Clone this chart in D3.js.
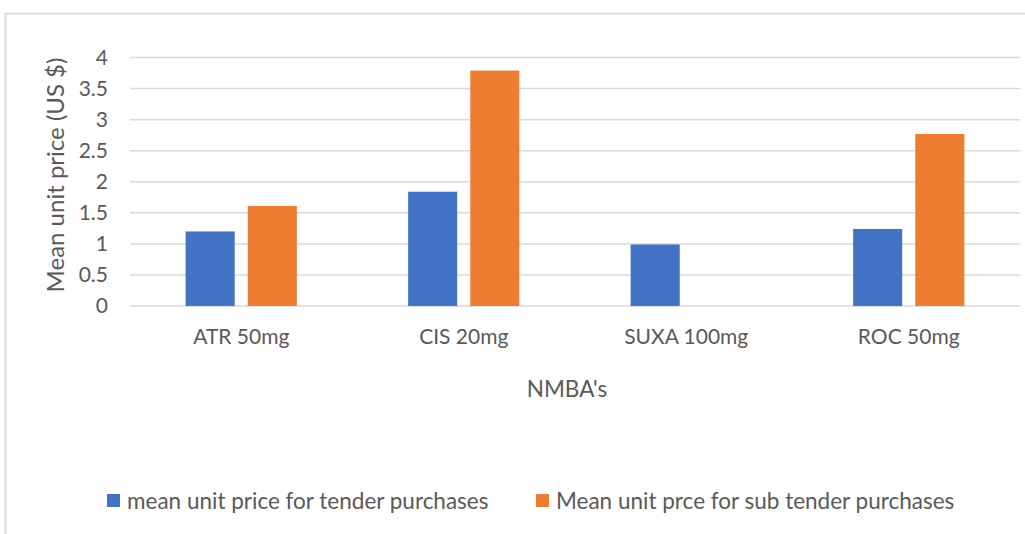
<!DOCTYPE html>
<html>
<head>
<meta charset="utf-8">
<script src="https://cdn.jsdelivr.net/npm/d3@7"></script>
<style>
  html, body { margin: 0; padding: 0; background: #fff; }
  svg { display: block; font-family: Lato, "Open Sans", sans-serif; }
</style>
</head>
<body>
<svg id="chart" width="1025" height="534"></svg>
<script>
// Mean unit price of neuromuscular blocking agents (NMBA's), US $
const categories = ["ATR 50mg", "CIS 20mg", "SUXA 100mg", "ROC 50mg"];
const seriesNames = [
  "mean unit price for tender purchases",
  "Mean unit prce for sub tender purchases"
];
const tenderValues = [1.2, 1.84, 0.99, 1.24];
const subTenderValues = [1.61, 3.79, null, 2.77];
const yTicks = [0, 0.5, 1, 1.5, 2, 2.5, 3, 3.5, 4];
const yTickLabels = ["0", "0.5", "1", "1.5", "2", "2.5", "3", "3.5", "4"];
const colors = ["#4472c4", "#ed7d31"];

const svg = d3.select("#chart");
const textColor = "#595959";
const gridColor = "#d9d9d9";

// chart area frame (top and left edges visible)
svg.append("path")
  .attr("d", "M5.5,534 V13.5 H1025")
  .attr("fill", "none")
  .attr("stroke", gridColor)
  .attr("stroke-width", 2);

const plot = { left: 130, right: 1020, top: 57.5, bottom: 306 };

const x0 = d3.scaleBand()
  .domain(categories)
  .range([plot.left, plot.right])
  .paddingInner(0.5)
  .paddingOuter(0.25);

const x1 = d3.scaleBand()
  .domain([0, 1])
  .range([0, x0.bandwidth()])
  .paddingInner(0.21)
  .paddingOuter(0);

const y = d3.scaleLinear()
  .domain([0, 4])
  .range([plot.bottom, plot.top]);

// horizontal gridlines
svg.append("g")
  .selectAll("line")
  .data(yTicks)
  .join("line")
  .attr("x1", plot.left)
  .attr("x2", plot.right)
  .attr("y1", d => y(d))
  .attr("y2", d => y(d))
  .attr("stroke", gridColor)
  .attr("stroke-width", 1.5);

// y axis tick labels
const yAxis = d3.axisLeft(y)
  .tickValues(yTicks)
  .tickFormat((d, i) => yTickLabels[i])
  .tickSize(0)
  .tickPadding(0);

svg.append("g")
  .attr("transform", "translate(108,0)")
  .call(yAxis)
  .call(g => g.select(".domain").remove())
  .call(g => g.selectAll("text")
    .attr("fill", textColor)
    .style("font-family", "Lato, sans-serif")
    .style("font-size", "21px"));

// bars
const rows = categories.map((c, i) => ({ cat: c, vals: [tenderValues[i], subTenderValues[i]] }));

const groups = svg.append("g")
  .selectAll("g")
  .data(rows)
  .join("g")
  .attr("transform", d => `translate(${x0(d.cat)},0)`);

groups.selectAll("rect")
  .data(d => d.vals.map((v, s) => ({ v, s })).filter(e => e.v != null))
  .join("rect")
  .attr("x", d => x1(d.s))
  .attr("width", x1.bandwidth())
  .attr("y", d => y(d.v))
  .attr("height", d => y(0) - y(d.v))
  .attr("fill", d => colors[d.s]);

// category axis labels
const xAxis = d3.axisBottom(x0).tickSize(0).tickPadding(0);
svg.append("g")
  .attr("transform", `translate(0,${plot.bottom})`)
  .call(xAxis)
  .call(g => g.select(".domain").remove())
  .call(g => g.selectAll("text")
    .attr("dy", null)
    .attr("y", 38)
    .attr("fill", textColor)
    .style("font-family", "Lato, sans-serif")
    .style("font-size", "21px"));

// axis titles
svg.append("text")
  .attr("x", 567)
  .attr("y", 397)
  .attr("text-anchor", "middle")
  .attr("fill", textColor)
  .style("font-size", "22.5px")
  .text("NMBA's");

svg.append("text")
  .attr("transform", "translate(64,175) rotate(-90)")
  .attr("text-anchor", "middle")
  .attr("fill", textColor)
  .style("font-size", "24px")
  .text("Mean unit price (US $)");

// legend
const legendItems = [
  { name: seriesNames[0], color: colors[0], x: 107 },
  { name: seriesNames[1], color: colors[1], x: 536 }
];
const legend = svg.append("g")
  .selectAll("g")
  .data(legendItems)
  .join("g")
  .attr("transform", d => `translate(${d.x},494)`);

legend.append("rect")
  .attr("width", 13)
  .attr("height", 13)
  .attr("fill", d => d.color);

legend.append("text")
  .attr("x", 20)
  .attr("y", 15)
  .attr("fill", textColor)
  .style("font-size", "22.5px")
  .text(d => d.name);
</script>
</body>
</html>
